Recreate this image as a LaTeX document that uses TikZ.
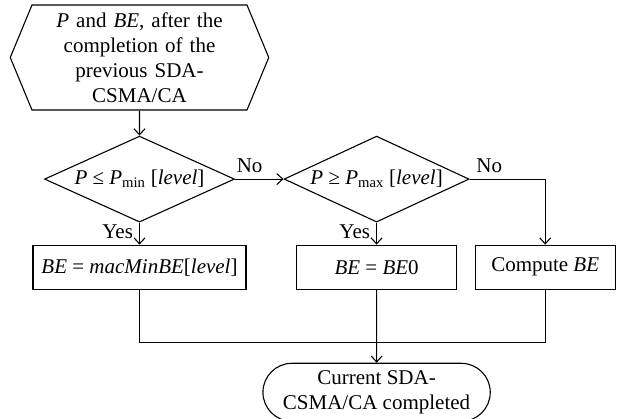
\documentclass[tikz,border=0pt]{standalone}
\usepackage{fontspec}
\setmainfont{Liberation Serif}
\usepackage{tikz}
\usetikzlibrary{shapes,arrows.meta,positioning,calc}

\begin{document}
\begin{tikzpicture}[
    font=\fontsize{21pt}{25pt}\selectfont,
    line width=1.1pt,
    node distance=22pt,
    io/.style={signal, signal to=west and east, signal pointer angle=135, draw, align=center, text width=215pt, minimum width=253pt, minimum height=105pt, inner sep=0pt},
    decision/.style={diamond, draw, aspect=2.2, minimum width=190pt, minimum height=86pt, inner sep=0pt},
    box/.style={rectangle, draw, align=center, minimum height=44pt, inner sep=2pt},
    term/.style={rounded rectangle, draw, align=center, minimum width=234pt, minimum height=58pt},
    arrow/.style={->, >={Straight Barb[length=6pt,width=11pt]}},
    lbl/.style={inner sep=6pt}
]
    \useasboundingbox (0,0) rectangle (619pt,-419pt);

    \node[io] (start) at (139.5pt,-57.5pt) {\textit{P} and \textit{BE}, after the\\completion of the\\previous SDA-\\CSMA/CA};
    \node[decision, below=25pt of start] (pmin) {\textit{P} ≤ \textit{P}\textsubscript{min} [\textit{level}]};
    \node[decision, minimum width=185pt, right=48.5pt of pmin] (pmax) {\textit{P} ≥ \textit{P}\textsubscript{max} [\textit{level}]};
    \node[box, minimum width=213pt, below=of pmin] (bemin) {\textit{BE} = \textit{macMinBE}[\textit{level}]};
    \node[box, minimum width=160pt, below=of pmax] (bezero) {\textit{BE} = \textit{BE}0};
    \node[box, minimum width=140pt, right=17.5pt of bezero] (comp) {Compute \textit{BE}};
    \node[term, below=73pt of bezero] (done) {Current SDA-\\CSMA/CA completed};
    \coordinate[above=20pt of done.north] (join);

    \draw[arrow] (start) -- (pmin);
    \draw[arrow] (pmin) -- node[lbl, above, pos=0.3] {No} (pmax);
    \draw[arrow] (pmin) -- node[lbl, left, pos=0.4] {Yes} (bemin);
    \draw[arrow] (pmax) -- node[lbl, left, pos=0.4] {Yes} (bezero);
    \draw[arrow] (pmax.east) -| node[lbl, above, pos=0.13] {No} (comp.north);
    \draw (bemin.south) |- (join) -| (comp.south);
    \draw[arrow] (bezero) -- (done);
\end{tikzpicture}
\end{document}
